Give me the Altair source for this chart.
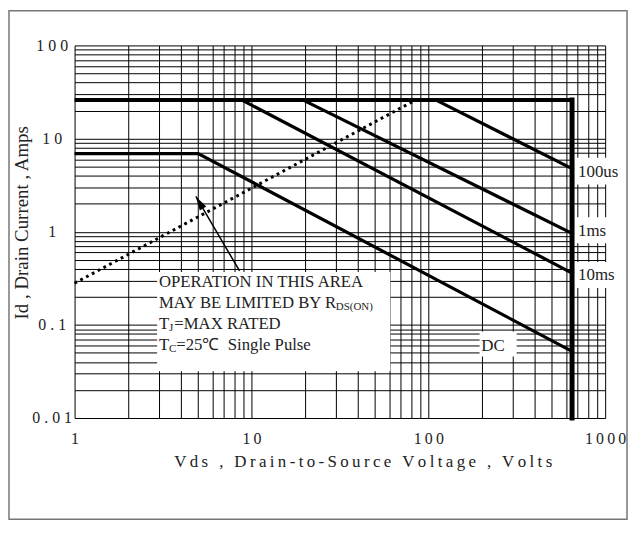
import altair as alt
import pandas as pd

# ---------------- axis grids / tick labels ----------------
X_GRID = [m * 10 ** e for e in range(0, 3) for m in range(1, 10)] + [1000]
Y_GRID = [m * 10.0 ** e for e in range(-2, 2) for m in range(1, 10)] + [100]
x_tick_values = [1, 10, 100, 1000]
x_tick_labels = ["1", "10", "100", "1000"]
y_tick_values = [0.01, 0.1, 1, 10, 100]
y_tick_labels = ["0.01", "0.1", "1", "10", "100"]
x_title = "Vds , Drain-to-Source Voltage , Volts"
y_title = "Id , Drain Current , Amps"

# ---------------- curves (Vds in V, Id in A) ----------------
limit_v = [1, 650]
limit_i = [26, 26]
drain_v = [650, 650]
drain_i = [26, 0.01]
pulse_names = ["100us", "1ms", "10ms"]
pulse_v = [[110, 650], [19.5, 650], [8.8, 650]]
pulse_i = [[26, 4.75], [26, 0.96], [26, 0.36]]
dc_v = [1, 5, 650]
dc_i = [6.9, 6.9, 0.052]
rds_v = [1, 85]
rds_i = [0.28, 26]

# ---------------- annotations ----------------
label_v = [650, 650, 650]
label_i = [4.42, 1.01, 0.344]
dc_label = "DC"
dc_label_v = [232]
dc_label_i = [0.0586]
# white patches behind notes/labels: v, v2, i, i2
patch_v = [2.93, 660, 660, 660, 195]
patch_v2 = [61, 1215, 1215, 1215, 316]
patch_i = [0.37, 6.23, 1.43, 0.473, 0.0847]
patch_i2 = [0.0317, 3.21, 0.754, 0.249, 0.0458]
note_v = 3.0
note_main = ["OPERATION IN THIS AREA", "MAY BE LIMITED BY R", "T", "T"]
note_main_i = [0.289, 0.1726, 0.103, 0.060]
note_sub = ["DS(ON)", "J", "C"]
note_sub_i = [0.1726, 0.103, 0.060]
note_sub_dx = [178, 10, 10]
note_rest = ["=MAX RATED", "=25\u2103\u00a0 Single Pulse"]
note_rest_i = [0.103, 0.060]
note_rest_dx = [15.5, 17.5]
arrow_v = [8.57, 4.85]
arrow_i = [0.379, 2.39]
arrow_head_v = [5.08]
arrow_head_i = [2.06]

FONT = "Liberation Serif"
W, H = 534, 375
PAD = {"left": 67, "top": 36, "right": 23, "bottom": 103}


def spaced(s, sep):
    return sep.join(list(s))


x_expr = "".join(
    f"datum.value == {v} ? '{spaced(l, chr(0x2009))}' : "
    for v, l in zip(x_tick_values, x_tick_labels)
) + "''"
y_expr = "".join(
    f"datum.value == {v} ? '{spaced(l, ' ')}' : "
    for v, l in zip(y_tick_values, y_tick_labels)
) + "''"

xscale = alt.Scale(type="log", domain=[1, 1000], nice=False)
yscale = alt.Scale(type="log", domain=[0.01, 100], nice=False)
xaxis = alt.Axis(
    values=X_GRID, labelExpr=x_expr, labelBaseline="middle", labelPadding=21,
    labelAlign="center", title=spaced(x_title, "\u2009"), titleX=290, titleY=44,
    titleAlign="center", titleBaseline="middle", titleFontSize=17,
)
yaxis = alt.Axis(
    values=Y_GRID, labelExpr=y_expr, labelAlign="center", labelBaseline="middle",
    labelPadding=23, title=y_title, titleX=-53, titleY=178, titleAlign="center",
    titleBaseline="middle", titleFontSize=19, titleAngle=270,
)


def X(f="v"):
    return alt.X(f"{f}:Q", scale=xscale, axis=xaxis)


def Y(f="i"):
    return alt.Y(f"{f}:Q", scale=yscale, axis=yaxis)


def line_df(vs, is_, name="s"):
    return pd.DataFrame({"v": vs, "i": is_, "k": list(range(len(vs))), "series": name})


# patches
patch_df = pd.DataFrame({"v": patch_v, "v2": patch_v2, "i": patch_i, "i2": patch_i2})
patches = alt.Chart(patch_df).mark_rect(color="white").encode(
    x=X(), x2=alt.X2("v2:Q"), y=Y(), y2=alt.Y2("i2:Q")
)

pulse_df = pd.concat([line_df(v, i, n) for v, i, n in zip(pulse_v, pulse_i, pulse_names)])
pulses = alt.Chart(pulse_df).mark_line(color="black", strokeWidth=3.2).encode(
    x=X(), y=Y(), detail="series:N", order="k:Q"
)
dc = alt.Chart(line_df(dc_v, dc_i)).mark_line(color="black", strokeWidth=3.2).encode(
    x=X(), y=Y(), order="k:Q"
)
rds = alt.Chart(line_df(rds_v, rds_i)).mark_line(
    color="black", strokeWidth=3, strokeDash=[2.8, 3.8]
).encode(x=X(), y=Y(), order="k:Q")
limit = alt.Chart(line_df(limit_v, limit_i)).mark_line(color="black", strokeWidth=4).encode(
    x=X(), y=Y(), order="k:Q"
)
drain = alt.Chart(line_df(drain_v, drain_i)).mark_line(
    color="black", strokeWidth=5, strokeCap="square"
).encode(x=X(), y=Y(), order="k:Q")

labels_df = pd.DataFrame({"v": label_v, "i": label_i, "t": pulse_names})
labels = alt.Chart(labels_df).mark_text(
    font=FONT, fontSize=17, align="left", baseline="middle", dx=6, color="#222"
).encode(x=X(), y=Y(), text="t:N")
dc_df = pd.DataFrame({"v": dc_label_v, "i": dc_label_i, "t": [dc_label]})
dc_text = alt.Chart(dc_df).mark_text(
    font=FONT, fontSize=17, align="center", baseline="middle", color="#222"
).encode(x=X(), y=Y(), text="t:N")

main_df = pd.DataFrame({"v": [note_v] * 4, "i": note_main_i, "t": note_main})
note_a = alt.Chart(main_df).mark_text(
    font=FONT, fontSize=16.8, align="left", baseline="middle", color="#222"
).encode(x=X(), y=Y(), text="t:N")
sub_layers = []
for t, i, dx in zip(note_sub, note_sub_i, note_sub_dx):
    d = pd.DataFrame({"v": [note_v], "i": [i], "t": [t]})
    sub_layers.append(alt.Chart(d).mark_text(
        font=FONT, fontSize=11, align="left", baseline="middle", dx=dx, dy=4, color="#222"
    ).encode(x=X(), y=Y(), text="t:N"))
for t, i, dx in zip(note_rest, note_rest_i, note_rest_dx):
    d = pd.DataFrame({"v": [note_v], "i": [i], "t": [t]})
    sub_layers.append(alt.Chart(d).mark_text(
        font=FONT, fontSize=16.8, align="left", baseline="middle", dx=dx, color="#222"
    ).encode(x=X(), y=Y(), text="t:N"))

arrow = alt.Chart(line_df(arrow_v, arrow_i)).mark_line(color="black", strokeWidth=1.5).encode(
    x=X(), y=Y(), order="k:Q"
)
head = alt.Chart(pd.DataFrame({"v": arrow_head_v, "i": arrow_head_i})).mark_point(
    shape="M0,-1L0.55,1L-0.55,1Z", filled=True, color="black", size=196,
    angle=328.6, opacity=1, strokeWidth=0
).encode(x=X(), y=Y())

frame = alt.Chart(pd.DataFrame({"a": [0]})).mark_rect(
    fillOpacity=0, stroke="#777", strokeWidth=1.5
).encode(
    x=alt.value(-PAD["left"] + 1), x2=alt.value(W + PAD["right"] - 1),
    y=alt.value(-PAD["top"] + 1), y2=alt.value(H + PAD["bottom"] - 1),
)

chart = alt.layer(
    patches, rds, pulses, dc, limit, drain, labels, dc_text, note_a, *sub_layers,
    arrow, head, frame
).properties(
    width=W, height=H, autosize=alt.AutoSizeParams(type="none"), padding=PAD,
    background="white",
).configure_view(stroke="transparent").configure_axis(
    grid=True, gridColor="#000", gridOpacity=1, gridWidth=1, domain=False,
    ticks=False, tickSize=0, labelFont=FONT, labelFontSize=16, labelColor="#222",
    titleFont=FONT, titleFontWeight="normal", titleColor="#222",
    labelOverlap=False, labelFlush=False, labelBound=False,
)

chart.save("out.html", embed_options={"renderer": "svg", "actions": False})
